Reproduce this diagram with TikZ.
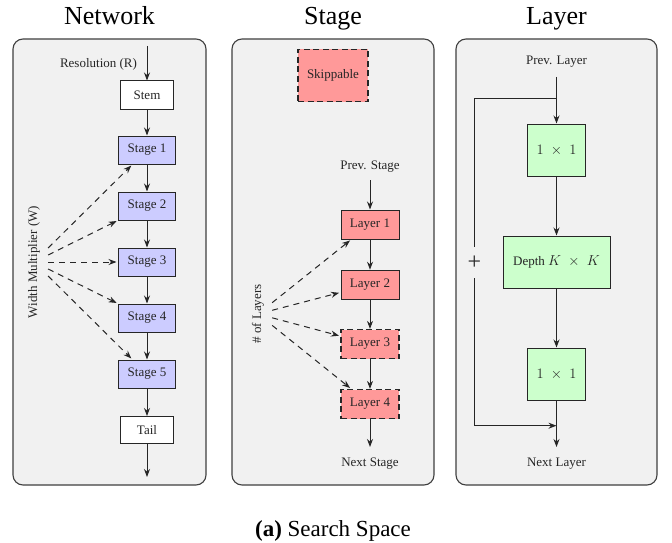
\documentclass[tikz,border=0pt]{standalone}
\usepackage{fontspec}
\setmainfont{Liberation Serif}
\usetikzlibrary{arrows.meta}
\definecolor{panelc}{HTML}{F1F1F1}
\definecolor{stagec}{HTML}{CCCCFF}
\definecolor{layerc}{HTML}{FF9999}
\definecolor{convc}{HTML}{CCFFCC}
\begin{document}
\begin{tikzpicture}[x=1pt,y=-1pt,
  panel/.style={draw=black!75, fill=panelc, line width=1.1pt, rounded corners=10pt},
  lbl/.style={font=\fontsize{13}{15}\selectfont, text=black!85},
  mlbl/.style={font=\fontsize{14}{16}\selectfont, text=black!85},
  box/.style={draw=black!85, line width=1pt, inner sep=0pt, lbl},
  dbox/.style={box, line width=1.2pt, dash pattern=on 6pt off 3.5pt},
  arr/.style={-{Stealth[length=8pt,width=6pt]}, line width=1pt, draw=black!85},
  darr/.style={arr, dash pattern=on 6pt off 5pt, shorten >=1.5pt},
  ttl/.style={font=\fontsize{26}{30}\selectfont, anchor=base},
  rotlbl/.style={lbl, rotate=90, inner xsep=2pt, inner ysep=8pt}
]
\useasboundingbox (0,0) rectangle (672,543);
\fill[white] (0,0) rectangle (672,543);

% panels and their titles
\draw[panel] (13,39) rectangle (206,485);
\draw[panel] (232,39) rectangle (434,485);
\draw[panel] (456,39) rectangle (657,485);
\node[ttl] (tnet) at (109.5,24.8) {Network};
\node[ttl] (tstage) at (333,24.8) {Stage};
\node[ttl] (tlayer) at (556.5,24.8) {Layer};

% ---------------- Network ----------------
\coordinate (netin) at (147,46);
\coordinate (netout) at (147,477);
\node[lbl, anchor=base] (res) at (98.5,68) {Resolution (R)};
\node[box, fill=white, minimum width=53, minimum height=28] (stem) at (147,95) {Stem};
\foreach \i/\y in {1/150,2/206,3/262,4/318,5/374}
  \node[box, fill=stagec, minimum width=57, minimum height=28] (s\i) at (147,\y) {Stage \i};
\node[box, fill=white, minimum width=53, minimum height=27] (tail) at (147,430) {Tail};
\draw[arr] (netin) -- (stem);
\draw[arr] (stem) -- (s1);
\draw[arr] (s1) -- (s2);
\draw[arr] (s2) -- (s3);
\draw[arr] (s3) -- (s4);
\draw[arr] (s4) -- (s5);
\draw[arr] (s5) -- (tail);
\draw[arr] (tail) -- (netout);
\node[rotlbl] (wm) at (34,262) {Width Multiplier (W)};
\foreach \i in {1,...,5}
  \draw[darr] (wm) -- (s\i);

% ---------------- Stage ----------------
\node[dbox, fill=layerc, minimum width=70, minimum height=52] (skip) at (333,75.5) {Skippable};
\node[lbl, anchor=base] (pstage) at (370,169.5) {Prev. Stage};
\coordinate (stin) at (370,180);
\coordinate (stout) at (370,447);
\node[box, fill=layerc, minimum width=58, minimum height=29] (l1) at (370,224.5) {Layer 1};
\node[box, fill=layerc, minimum width=58, minimum height=29] (l2) at (370,284.7) {Layer 2};
\node[dbox, fill=layerc, minimum width=58, minimum height=29] (l3) at (370,344) {Layer 3};
\node[dbox, fill=layerc, minimum width=58, minimum height=29] (l4) at (370,404) {Layer 4};
\node[lbl, anchor=base] (nstage) at (370,466.7) {Next Stage};
\draw[arr] (stin) -- (l1);
\draw[arr] (l1) -- (l2);
\draw[arr] (l2) -- (l3);
\draw[arr] (l3) -- (l4);
\draw[arr] (l4) -- (stout);
\node[rotlbl] (nl) at (258,314) {\# of Layers};
\foreach \i in {1,...,4}
  \draw[darr] (nl) -- (l\i);

% ---------------- Layer ----------------
\node[lbl, anchor=base] (player) at (556.5,64.3) {Prev. Layer};
\coordinate (lyin) at (556.5,77);
\coordinate (br) at (556.5,98.3);
\coordinate (jn) at (556.5,425.7);
\coordinate (lyout) at (556.5,447);
\node[box, mlbl, fill=convc, minimum width=58, minimum height=52] (c1) at (556.5,150) {$1\;\times\;1$};
\node[box, fill=convc, minimum width=107, minimum height=52] (dw) at (556.5,262) {Depth {\fontsize{14}{16}\selectfont$K\;\times\;K$}};
\node[box, mlbl, fill=convc, minimum width=58, minimum height=52] (c2) at (556.5,374) {$1\;\times\;1$};
\node[font=\fontsize{24}{26}\selectfont, text=black!85, inner sep=0pt, minimum height=31] (plus) at (474.3,262.7) {+};
\node[lbl, anchor=base] (nlayer) at (556.5,466) {Next Layer};
\draw[arr] (lyin) -- (c1);
\draw[arr] (c1) -- (dw);
\draw[arr] (dw) -- (c2);
\draw[arr] (c2) -- (lyout);
\draw[line width=1pt, draw=black!85] (br) -| (plus);
\draw[arr] (plus) |- (jn);

% caption
\node[font=\fontsize{23}{27}\selectfont, anchor=base] (cap) at (333,536.5) {\textbf{(a)} Search Space};
\end{tikzpicture}
\end{document}
